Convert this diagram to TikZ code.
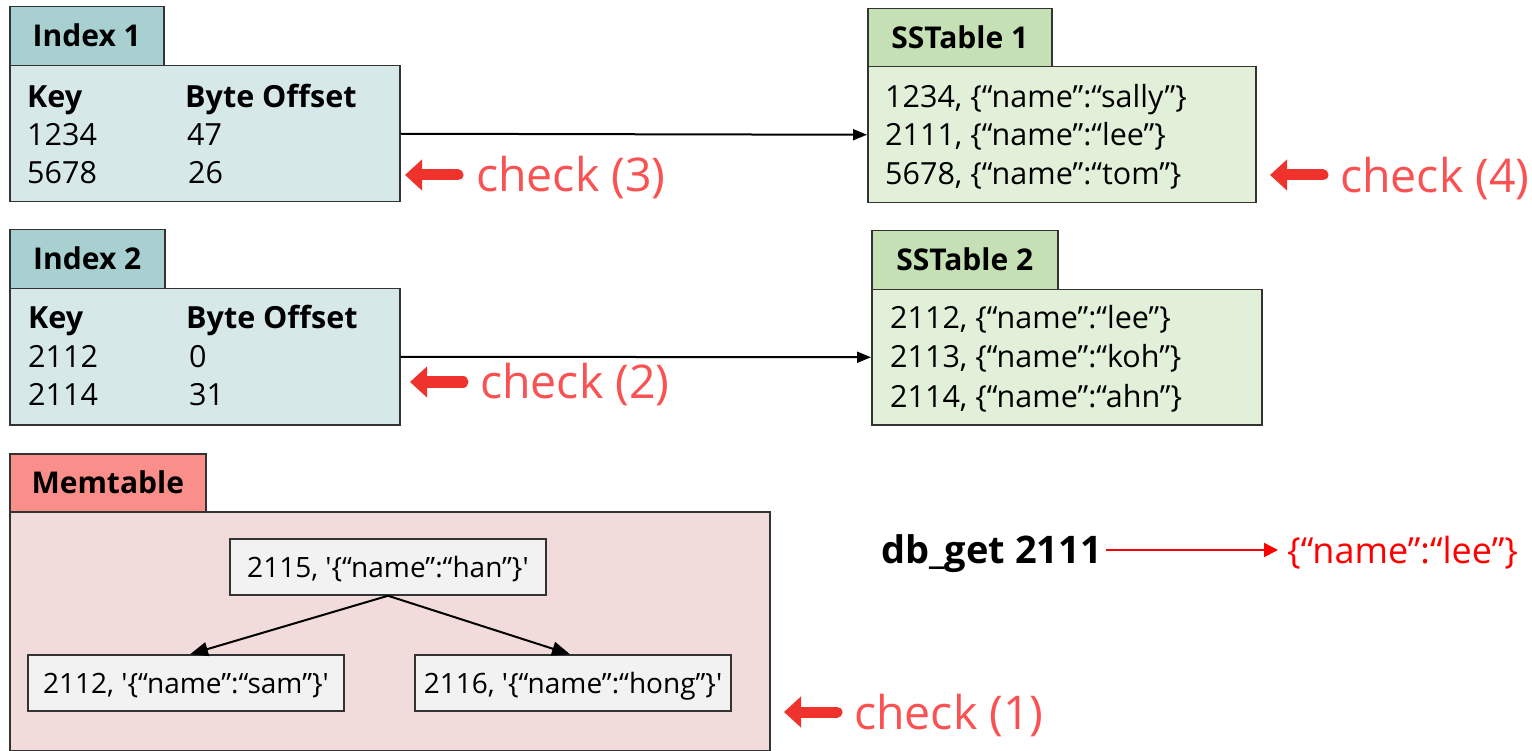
\documentclass[tikz,border=0pt]{standalone}
\usepackage{fontspec}
\setmainfont{Open Sans}
\usetikzlibrary{arrows.meta}

\definecolor{idxtab}{HTML}{A8D0D0}
\definecolor{idxbody}{HTML}{D6E8E8}
\definecolor{sstab}{HTML}{C5E0B4}
\definecolor{ssbody}{HTML}{E2F0D9}
\definecolor{memtab}{HTML}{FA8E8A}
\definecolor{membody}{HTML}{F2DCDB}
\definecolor{treenode}{HTML}{F2F2F2}
\definecolor{checkred}{HTML}{FA5252}
\definecolor{arrowred}{HTML}{F0322D}
\definecolor{edge}{HTML}{333333}

\begin{document}
\begin{tikzpicture}[x=1pt,y=-1pt,
  panel/.style={draw=edge, line width=1.5pt, inner sep=0pt, anchor=north west},
  tablabel/.style={panel, font=\bfseries\fontsize{30}{36}\selectfont,
    text height=21pt, text depth=0pt},
  row/.style={font=\fontsize{30.5}{36}\selectfont, anchor=base west, inner sep=0pt},
  rowhead/.style={row, font=\bfseries\fontsize{30.5}{36}\selectfont},
  treebox/.style={draw=edge, line width=1.5pt, fill=treenode, inner sep=0pt,
    minimum width=316pt, minimum height=56pt,
    font=\fontsize{28}{34}\selectfont, text height=20pt, text depth=0pt},
  link/.style={draw=black, line width=2pt, -{Triangle[width=11pt,length=14pt]}},
  treelink/.style={draw=black, line width=2pt, -{Triangle[width=14pt,length=18pt]}},
  checkmark/.style={draw=arrowred, line width=11pt, line cap=round,
    -{Triangle[width=30pt,length=17pt]}},
  checklabel/.style={font=\fontsize{46.5}{54}\selectfont, text=checkred,
    anchor=base west, inner sep=0pt}
]
\useasboundingbox (0,0) rectangle (1532,751);

% ---------- Index 1 ----------
\node[panel, fill=idxbody, minimum width=390pt, minimum height=136pt] (i1body) at (9,65) {};
\node[tablabel, fill=idxtab, minimum width=154pt, minimum height=59pt] (i1tab) at (9,6) {Index 1};
\node[rowhead] (i1k)  at (27,108) {Key};
\node[rowhead] (i1o)  at (185,108) {Byte Offset};
\node[row]     (i1a)  at (27,146) {1234};
\node[row]     (i1b)  at (187,146) {47};
\node[row]     (i1c)  at (27,184) {5678};
\node[row]     (i1d)  at (188,184) {26};

% ---------- Index 2 ----------
\node[panel, fill=idxbody, minimum width=390pt, minimum height=136pt] (i2body) at (9,288) {};
\node[tablabel, fill=idxtab, minimum width=155pt, minimum height=59pt] (i2tab) at (9,229) {Index 2};
\node[rowhead] (i2k)  at (28,329) {Key};
\node[rowhead] (i2o)  at (186,329) {Byte Offset};
\node[row]     (i2a)  at (28,367) {2112};
\node[row]     (i2b)  at (189,367) {0};
\node[row]     (i2c)  at (28,406) {2114};
\node[row]     (i2d)  at (189,406) {31};

% ---------- SSTable 1 ----------
\node[panel, fill=ssbody, minimum width=388pt, minimum height=136pt] (s1body) at (867,66) {};
\node[tablabel, fill=sstab, minimum width=184pt, minimum height=58pt] (s1tab) at (867,8) {SSTable 1};
\node[row] (s1a) at (885,108) {1234, \{“name”:“sally”\}};
\node[row] (s1b) at (885,146) {2111, \{“name”:“lee”\}};
\node[row] (s1c) at (885,185) {5678, \{“name”:“tom”\}};

% ---------- SSTable 2 ----------
\node[panel, fill=ssbody, minimum width=390pt, minimum height=135pt] (s2body) at (871,289) {};
\node[tablabel, fill=sstab, minimum width=186pt, minimum height=59pt] (s2tab) at (871,230) {SSTable 2};
\node[row] (s2a) at (890,329) {2112, \{“name”:“lee”\}};
\node[row] (s2b) at (890,368) {2113, \{“name”:“koh”\}};
\node[row] (s2c) at (890,407) {2114, \{“name”:“ahn”\}};

% index -> sstable pointers
\draw[link] (i1body.east) -- (s1body.west);
\draw[link] (i2body.east) -- (s2body.west);

% ---------- Memtable ----------
\node[panel, fill=membody, minimum width=760pt, minimum height=239pt] (mbody) at (9,511) {};
\node[tablabel, fill=memtab, minimum width=196pt, minimum height=58pt] (mtab) at (9,453) {Memtable};
\node[treebox] (m0) at (388,567) {2115, \textquotesingle\{“name”:“han”\}\textquotesingle};
\node[treebox] (m1) at (186,683) {2112, \textquotesingle\{“name”:“sam”\}\textquotesingle};
\node[treebox] (m2) at (573,683) {2116, \textquotesingle\{“name”:“hong”\}\textquotesingle};
\draw[treelink] (m0.south) -- ([xshift=4pt]m1.north);
\draw[treelink] (m0.south) -- ([xshift=-3pt]m2.north);

% ---------- lookup ----------
\node[font=\bfseries\fontsize{38}{44}\selectfont, anchor=base west, inner ysep=0pt,
  inner xsep=4pt, text height=32pt, text depth=6pt] (get) at (877,563) {db\_get 2111};
\node[font=\fontsize{36}{42}\selectfont, text=red, anchor=base west, inner ysep=0pt,
  inner xsep=9pt, text height=32pt, text depth=6pt] (res) at (1278,563) {\{“name”:“lee”\}};
\draw[draw=red, line width=2pt, -{Triangle[width=14pt,length=14pt]}] (get.east) -- (res.west);

% ---------- check marks ----------
\coordinate (c3tail) at (458,175);  \coordinate (c3tip) at (405,175);
\coordinate (c4tail) at (1323,175); \coordinate (c4tip) at (1270,175);
\coordinate (c2tail) at (463,382);  \coordinate (c2tip) at (410,382);
\coordinate (c1tail) at (837,712);  \coordinate (c1tip) at (784,712);
\draw[checkmark] (c3tail) -- (c3tip);
\draw[checkmark] (c4tail) -- (c4tip);
\draw[checkmark] (c2tail) -- (c2tip);
\draw[checkmark] (c1tail) -- (c1tip);
\node[checklabel] (c3) at (476,192) {check (3)};
\node[checklabel] (c4) at (1340,193) {check (4)};
\node[checklabel] (c2) at (480,399) {check (2)};
\node[checklabel] (c1) at (854,729) {check (1)};
\end{tikzpicture}
\end{document}
